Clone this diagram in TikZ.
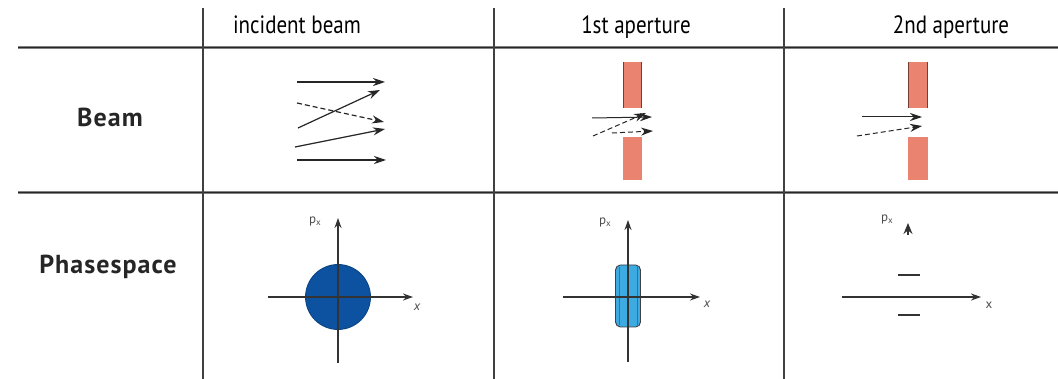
\documentclass[tikz,border=0pt]{standalone}
\usepackage{fontspec}
\setmainfont{PT Sans}
\usetikzlibrary{arrows.meta}
\definecolor{plate}{RGB}{234,132,112}
\definecolor{plateedge}{RGB}{120,60,50}
\definecolor{disc}{RGB}{12,82,160}
\definecolor{slab}{RGB}{62,170,226}
\newcommand{\hdrtext}[1]{\scalebox{0.84}[1]{#1}}
\begin{document}
\begin{tikzpicture}[x=1pt,y=-1pt,
  grid/.style={line width=1.6pt, black!75},
  rule/.style={line width=3pt, black!50},
  rulec/.style={line width=1pt, black!85},
  hdr/.style={font=\fontsize{25}{27}\selectfont, text=black, anchor=base, inner sep=0pt},
  rowl/.style={font=\bfseries\fontsize{26}{28}\selectfont\addfontfeatures{LetterSpace=4}, text=black!85, anchor=base, inner sep=0pt},
  beamar/.style={line width=1.2pt, black!85, -{Stealth[length=12pt,width=8pt]}},
  beamd/.style={beamar, dashed, dash pattern=on 5pt off 3pt},
  axis/.style={line width=1.3pt, black!80, -{Stealth[length=10pt,width=7pt]}},
  axisn/.style={line width=1.3pt, black!80},
  small/.style={font=\fontsize{13}{14}\selectfont, text=black!70, inner sep=0pt},
]
\useasboundingbox (0,0) rectangle (1058,379);
\fill[white] (0,0) rectangle (1058,379);
% grid
\coordinate (v1t) at (203,8); \coordinate (v1b) at (203,379);
\coordinate (v2t) at (494,8); \coordinate (v2b) at (494,379);
\coordinate (v3t) at (784,8); \coordinate (v3b) at (784,379);
\coordinate (h1l) at (18,48); \coordinate (h1r) at (1058,48);
\coordinate (h2l) at (18,193); \coordinate (h2r) at (1058,193);
\draw[rule] (h1l) -- (h1r);
\draw[rulec] (h1l) -- (h1r);
\draw[rule] (h2l) -- (h2r);
\draw[rulec] (h2l) -- (h2r);
\draw[grid] (v1t) -- (v1b);
\draw[grid] (v2t) -- (v2b);
\draw[grid] (v3t) -- (v3b);
% texts
\node[hdr] (t1) at (297,34) {\hdrtext{incident beam}};
\node[hdr] (t2) at (636,34) {\hdrtext{1st aperture}};
\node[hdr] (t3) at (951,34) {\hdrtext{2nd aperture}};
\node[rowl] (r1) at (110,127) {Beam};
\node[rowl] (r2) at (108,274) {Phasespace};
% incident beam
\coordinate (a1s) at (297,82);  \coordinate (a1e) at (385,82);
\coordinate (a2s) at (297,103); \coordinate (a2e) at (384,122);
\coordinate (a3s) at (298,128); \coordinate (a3e) at (380,90);
\coordinate (a4s) at (295,147); \coordinate (a4e) at (385,129);
\coordinate (a5s) at (297,160); \coordinate (a5e) at (386,160);
\draw[beamar] (a1s) -- (a1e);
\draw[beamd] (a2s) -- (a2e);
\draw[beamar] (a3s) -- (a3e);
\draw[beamar] (a4s) -- (a4e);
\draw[beamar] (a5s) -- (a5e);
% 1st aperture
\fill[plate] (623,62) rectangle (642,108);
\fill[plate] (623,137) rectangle (642,180);
\draw[plateedge, line width=1pt] (623.5,62) -- (623.5,108);
\draw[plateedge, line width=1pt] (641.5,62) -- (641.5,108);
\coordinate (b1s) at (592,118); \coordinate (b1e) at (652,117);
\coordinate (b2s) at (593,136); \coordinate (b2e) at (646,113);
\coordinate (b3s) at (612,133); \coordinate (b3e) at (653,131);
\draw[beamar, line width=1pt] (b1s) -- (b1e);
\draw[beamd, line width=1pt] (b2s) -- (b2e);
\draw[beamd, line width=1pt] (b3s) -- (b3e);
% 2nd aperture
\fill[plate] (908,62) rectangle (928,108);
\fill[plate] (908,137) rectangle (928,180);
\draw[plateedge, line width=1pt] (908.5,62) -- (908.5,108);
\draw[plateedge, line width=1pt] (927.5,62) -- (927.5,108);
\coordinate (c1s) at (862,117); \coordinate (c1e) at (922,117);
\coordinate (c2s) at (857,136); \coordinate (c2e) at (922,126);
\draw[beamar, line width=1pt] (c1s) -- (c1e);
\draw[beamd, line width=1pt] (c2s) -- (c2e);
% phase 1
\node[circle, fill=disc, draw=disc!80!black, line width=0.8pt, minimum size=65pt, inner sep=0pt] (d1) at (338,297) {};
\coordinate (p1l) at (268,297); \coordinate (p1r) at (413,297);
\coordinate (p1b) at (338,363); \coordinate (p1t) at (338,218);
\draw[axis] (p1l) -- (p1r);
\draw[axis] (p1b) -- (p1t);
\node[small] (l1p) at (315,221) {p\raisebox{-2pt}{\fontsize{9}{9}\selectfont x}};
\node[small] (l1x) at (417,307) {\itshape x};
% phase 2
\node[rectangle, rounded corners=5pt, fill=slab, draw=black!75, line width=0.9pt, minimum width=25pt, minimum height=62pt, inner sep=0pt] (s2) at (628,296) {};
\draw[black!60, line width=0.6pt] (619,267) -- (619,325);
\draw[black!60, line width=0.6pt] (637,267) -- (637,325);
\coordinate (p2l) at (563,297); \coordinate (p2r) at (700,297);
\coordinate (p2b) at (628,362); \coordinate (p2t) at (628,220);
\draw[axis] (p2l) -- (p2r);
\draw[axis] (p2b) -- (p2t);
\node[small] (l2p) at (605,222) {p\raisebox{-2pt}{\fontsize{9}{9}\selectfont x}};
\node[small] (l2x) at (707,304) {\itshape x};
% phase 3
\coordinate (p3l) at (842,297); \coordinate (p3r) at (981,297);
\coordinate (p3b) at (908,235); \coordinate (p3t) at (908,223);
\draw[axis] (p3l) -- (p3r);
\draw[axis, -{Stealth[length=11pt,width=9pt]}] (p3b) -- (p3t);
\coordinate (m1l) at (898,275); \coordinate (m1r) at (920,275);
\coordinate (m2l) at (898,315); \coordinate (m2r) at (920,315);
\draw[axisn] (m1l) -- (m1r);
\draw[axisn] (m2l) -- (m2r);
\node[small] (l3p) at (887,219) {p\raisebox{-2pt}{\fontsize{9}{9}\selectfont x}};
\node[small] (l3x) at (989,305) {x};
\end{tikzpicture}
\end{document}
